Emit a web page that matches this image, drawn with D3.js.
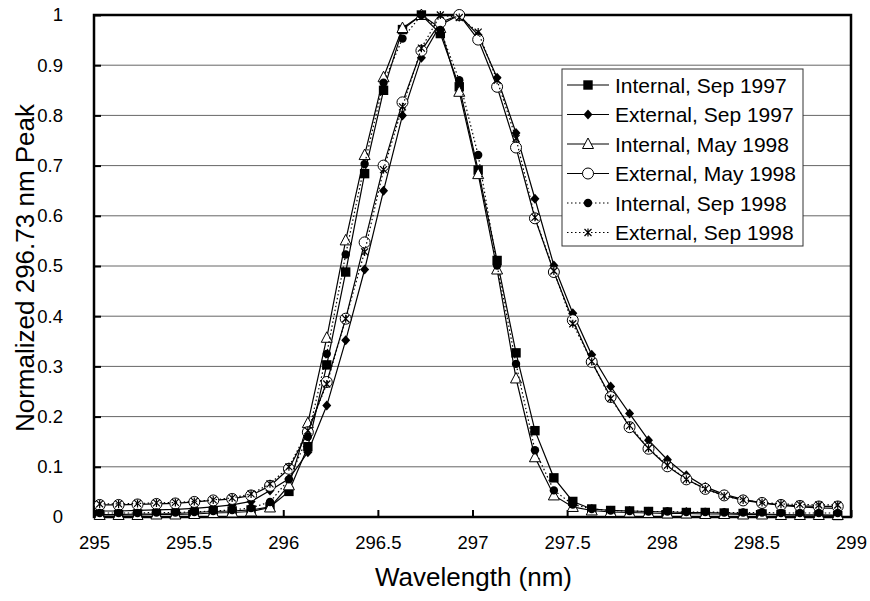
<!DOCTYPE html>
<html><head><meta charset="utf-8">
<script src="https://cdn.jsdelivr.net/npm/d3@7"></script>
<style>body{margin:0;background:#fff}svg{display:block}text{font-family:"Liberation Sans",Arial,sans-serif}</style>
</head><body>
<svg id="c" width="870" height="601"></svg>
<script>
// wavelength grid (nm)
const wavelengths = d3.range(40).map(k => +(295.03 + 0.1 * k).toFixed(2));
const seriesNames = ["Internal, Sep 1997","External, Sep 1997","Internal, May 1998","External, May 1998","Internal, Sep 1998","External, Sep 1998"];
const internalSep1997 = [0.005,0.005,0.006,0.006,0.007,0.009,0.011,0.012,0.014,0.02,0.051,0.14,0.303,0.488,0.684,0.85,0.971,1.0,0.963,0.857,0.691,0.511,0.327,0.172,0.078,0.031,0.016,0.013,0.012,0.011,0.01,0.009,0.009,0.008,0.007,0.006,0.005,0.004,0.004,0.003];
const externalSep1997 = [0.012,0.012,0.013,0.014,0.015,0.017,0.02,0.024,0.031,0.053,0.076,0.129,0.222,0.352,0.493,0.65,0.80,0.915,0.98,1.0,0.96,0.875,0.765,0.634,0.501,0.406,0.323,0.26,0.206,0.153,0.114,0.083,0.06,0.045,0.035,0.028,0.023,0.02,0.018,0.017];
const internalMay1998 = [0.004,0.004,0.004,0.005,0.005,0.006,0.008,0.009,0.011,0.019,0.063,0.187,0.357,0.551,0.721,0.876,0.974,1.0,0.974,0.847,0.683,0.493,0.276,0.119,0.043,0.02,0.013,0.01,0.009,0.008,0.007,0.007,0.006,0.006,0.005,0.005,0.004,0.004,0.004,0.004];
const externalMay1998 = [0.024,0.024,0.025,0.026,0.027,0.03,0.033,0.036,0.043,0.062,0.096,0.169,0.269,0.395,0.547,0.70,0.826,0.929,0.985,1.0,0.951,0.857,0.736,0.595,0.488,0.392,0.309,0.239,0.179,0.136,0.101,0.075,0.056,0.043,0.033,0.028,0.024,0.022,0.021,0.021];
const internalSep1998 = [0.008,0.008,0.008,0.009,0.009,0.01,0.012,0.014,0.018,0.03,0.075,0.16,0.325,0.523,0.703,0.865,0.953,1.0,0.97,0.87,0.721,0.501,0.305,0.133,0.053,0.025,0.016,0.013,0.012,0.011,0.011,0.01,0.01,0.009,0.009,0.009,0.008,0.008,0.008,0.008];
const externalSep1998 = [0.026,0.026,0.027,0.028,0.029,0.031,0.034,0.038,0.046,0.066,0.1,0.172,0.265,0.395,0.528,0.692,0.817,0.934,1.0,0.995,0.966,0.87,0.754,0.597,0.49,0.385,0.31,0.236,0.182,0.137,0.103,0.075,0.056,0.042,0.034,0.029,0.026,0.025,0.024,0.024];
const xTicks = [295,295.5,296,296.5,297,297.5,298,298.5,299];
const xTickLabels = ["295","295.5","296","296.5","297","297.5","298","298.5","299"];
const yTicks = [0,0.1,0.2,0.3,0.4,0.5,0.6,0.7,0.8,0.9,1];
const yTickLabels = ["0","0.1","0.2","0.3","0.4","0.5","0.6","0.7","0.8","0.9","1"];

const seriesValues = [internalSep1997, externalSep1997, internalMay1998, externalMay1998, internalSep1998, externalSep1998];
const markerTypes = ["square","diamond","triangle","circle","dot","star"];
const dashed = [false,false,false,false,true,true];

const svg = d3.select("#c");
const L = 94, R = 851, T = 15, B = 517;
const x = d3.scaleLinear().domain([295,299]).range([L,R]);
const y = d3.scaleLinear().domain([0,1]).range([B,T]);

// gridlines
svg.append("g").selectAll("line").data(yTicks.slice(1,-1)).join("line")
  .attr("x1",L).attr("x2",R).attr("y1",d=>y(d)).attr("y2",d=>y(d))
  .attr("stroke","#666").attr("stroke-width",1);

// axes
const yAxis = d3.axisLeft(y).tickValues(yTicks).tickFormat((d,i)=>yTickLabels[i]).tickSizeInner(-7).tickSizeOuter(0).tickPadding(31);
const gy = svg.append("g").attr("transform",`translate(${L},0)`).call(yAxis);
const xAxis = d3.axisBottom(x).tickValues(xTicks).tickFormat((d,i)=>xTickLabels[i]).tickSizeInner(-7).tickSizeOuter(0).tickPadding(19);
const gx = svg.append("g").attr("transform",`translate(0,${B})`).call(xAxis);
[gx,gy].forEach(g=>{
  g.select(".domain").remove();
  g.selectAll(".tick line").attr("stroke","#000").attr("stroke-width",2);
  g.selectAll(".tick text").attr("font-size",18.5).attr("fill","#000").attr("font-family","Liberation Sans, Arial, sans-serif");
});
// frame
svg.append("rect").attr("x",L).attr("y",T).attr("width",R-L).attr("height",B-T)
  .attr("fill","none").attr("stroke","#000").attr("stroke-width",2.5);

function drawMarker(g, type, cx, cy){
  const s = 4.7;
  if(type==="square") g.append("rect").attr("x",cx-s).attr("y",cy-s).attr("width",2*s).attr("height",2*s).attr("fill","#000");
  else if(type==="diamond") g.append("path").attr("d",`M${cx},${cy-5}L${cx+4.5},${cy}L${cx},${cy+5}L${cx-4.5},${cy}Z`).attr("fill","#000");
  else if(type==="triangle") g.append("path").attr("d",`M${cx},${cy-6}L${cx+5.5},${cy+4.5}L${cx-5.5},${cy+4.5}Z`).attr("fill","#fff").attr("stroke","#000").attr("stroke-width",1);
  else if(type==="circle") g.append("circle").attr("cx",cx).attr("cy",cy).attr("r",5.5).attr("fill","#fff").attr("stroke","#000").attr("stroke-width",1);
  else if(type==="dot") g.append("circle").attr("cx",cx).attr("cy",cy).attr("r",4.2).attr("fill","#000");
  else if(type==="star"){
    const a=3.5;
    g.append("path").attr("d",`M${cx-a},${cy-a}L${cx+a},${cy+a}M${cx+a},${cy-a}L${cx-a},${cy+a}M${cx},${cy-a-0.5}L${cx},${cy+a+0.5}`)
      .attr("stroke","#000").attr("stroke-width",1.2).attr("fill","none");
  }
}

const line = d3.line().x(d=>x(d[0])).y(d=>y(d[1]));
const plot = svg.append("g");
seriesValues.forEach((vals,i)=>{
  const pts = wavelengths.map((w,j)=>[w,vals[j]]);
  const g = plot.append("g");
  g.append("path").attr("d",line(pts)).attr("fill","none").attr("stroke","#000")
    .attr("stroke-width",1.2).attr("stroke-dasharray",dashed[i]?"1.5,2.5":null);
  pts.forEach(p=>drawMarker(g, markerTypes[i], x(p[0]), y(p[1])));
});

// legend
const lg = svg.append("g");
lg.append("rect").attr("x",562).attr("y",69).attr("width",241).attr("height",177)
  .attr("fill","#fff").attr("stroke","#333").attr("stroke-width",1);
seriesNames.forEach((name,i)=>{
  const cy = 85 + i*29.5;
  lg.append("line").attr("x1",567).attr("x2",609).attr("y1",cy).attr("y2",cy)
    .attr("stroke","#000").attr("stroke-width",1.2).attr("stroke-dasharray",dashed[i]?"1.5,2.5":null);
  drawMarker(lg, markerTypes[i], 588, cy);
  lg.append("text").attr("x",615).attr("y",cy+7.5).attr("font-size",21).text(name);
});

// axis titles
svg.append("text").attr("x",(L+R)/2+1).attr("y",586).attr("text-anchor","middle").attr("font-size",26).text("Wavelength (nm)");
svg.append("text").attr("transform",`translate(34,${(T+B)/2+2}) rotate(-90)`).attr("text-anchor","middle").attr("font-size",26).text("Normalized 296.73 nm Peak");
</script>
</body></html>
